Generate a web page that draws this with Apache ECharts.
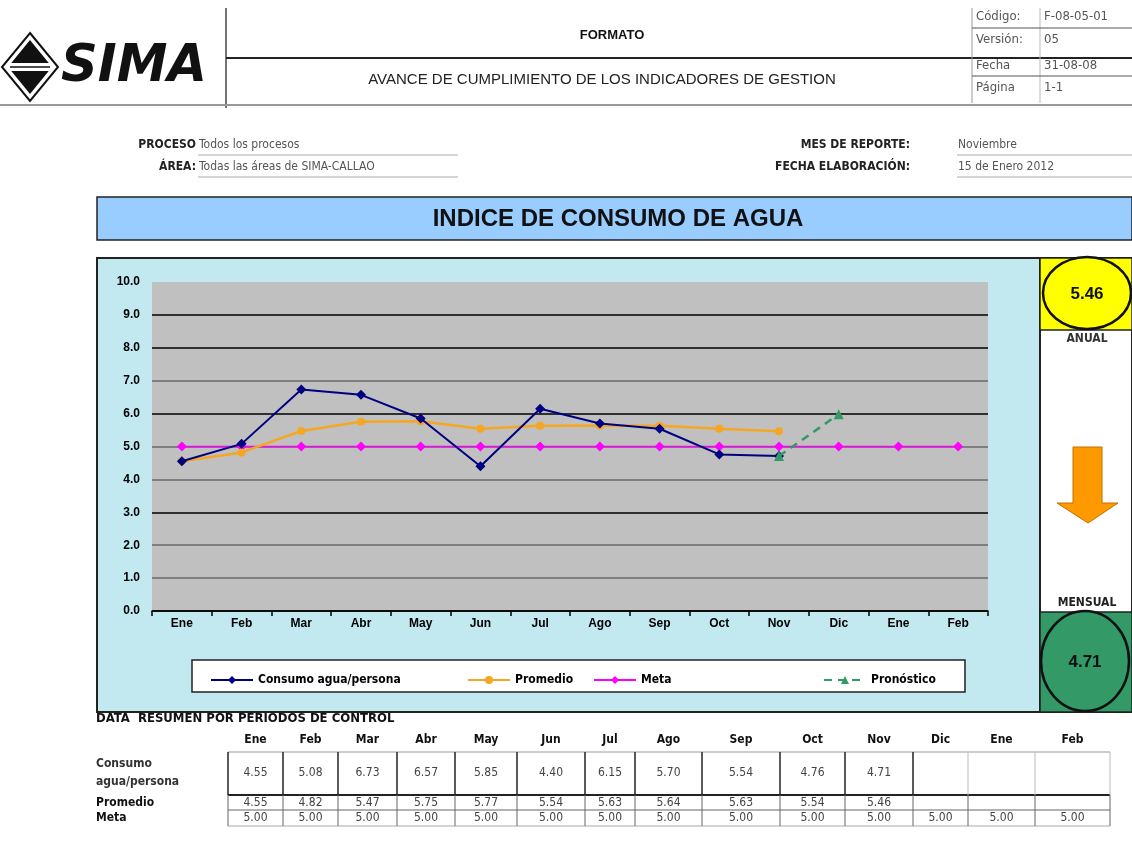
<!DOCTYPE html>
<html>
<head>
<meta charset="utf-8">
<title>Indice de consumo de agua</title>
<script src="https://cdn.jsdelivr.net/npm/echarts@6/dist/echarts.min.js"></script>
<style>
  html, body { margin: 0; padding: 0; background: #fff; }
  #chart { width: 1132px; height: 843px; }
</style>
</head>
<body>
<div id="chart"></div>
<script>
// datos del indicador
const meses = ['Ene', 'Feb', 'Mar', 'Abr', 'May', 'Jun', 'Jul', 'Ago', 'Sep', 'Oct', 'Nov', 'Dic', 'Ene', 'Feb'];
const consumo = [4.55, 5.08, 6.73, 6.57, 5.85, 4.40, 6.15, 5.70, 5.54, 4.76, 4.71, null, null, null];
const promedio = [4.55, 4.82, 5.47, 5.75, 5.77, 5.54, 5.63, 5.64, 5.63, 5.54, 5.46, null, null, null];
const meta = [5.00, 5.00, 5.00, 5.00, 5.00, 5.00, 5.00, 5.00, 5.00, 5.00, 5.00, 5.00, 5.00, 5.00];
const pronostico = [null, null, null, null, null, null, null, null, null, null, 4.71, 5.98, null, null];
const ejeY = { min: 0, max: 10, interval: 1 };
const anual = 5.46;
const mensual = 4.71;

const NARROW = '"Liberation Sans Narrow", "DejaVu Sans Condensed", "Liberation Sans", sans-serif';
const SANS = '"Liberation Sans", Arial, sans-serif';

// bordes de columnas de la tabla resumen
const colEdges = [228, 283, 338, 397, 455, 517, 585, 635, 702, 780, 845, 913, 968, 1035, 1110];

const g = [];
function txt(text, x, y, font, fill, align) {
	g.push({
		type: 'text', z: 10, silent: true,
		style: { text, x, y, font, fill: fill || '#000', textAlign: align || 'left', textVerticalAlign: 'middle', align: align || 'left', verticalAlign: 'middle' }
	});
}
function ln(x1, y1, x2, y2, color, w) {
	g.push({ type: 'line', z: 9, silent: true, shape: { x1, y1, x2, y2 }, style: { stroke: color, lineWidth: w } });
}
function box(x, y, w, h, fill, stroke, lw, z) {
	g.push({ type: 'rect', z: z == null ? 1 : z, silent: true, shape: { x, y, width: w, height: h }, style: { fill, stroke, lineWidth: lw || 0 } });
}

// ---- cabecera ----
g.push({ type: 'polygon', z: 5, silent: true, shape: { points: [[30, 33], [58, 67], [30, 101], [2, 67]] }, style: { fill: '#fff', stroke: '#111', lineWidth: 2 } });
g.push({ type: 'polygon', z: 6, silent: true, shape: { points: [[30, 40], [52, 67], [30, 94], [8, 67]] }, style: { fill: '#111' } });
box(8, 63, 44, 8, '#fff', null, 0, 7);
ln(10, 67, 50, 67, '#111', 1.5);
txt('SIMA', 61, 68, 'italic bold 51px "DejaVu Sans", sans-serif', '#111');

ln(226, 8, 226, 108, '#444', 1.5);
ln(226, 58, 1132, 58, '#222', 2);
ln(0, 105, 1132, 105, '#999', 2);
txt('FORMATO', 612, 35, 'bold 13px ' + SANS, '#111', 'center');
txt('AVANCE DE CUMPLIMIENTO DE LOS INDICADORES DE GESTION', 602, 80, '15px ' + SANS, '#222', 'center');

ln(972, 8, 972, 103, '#999', 1);
ln(1040, 8, 1040, 103, '#bbb', 1);
ln(972, 28, 1132, 28, '#555', 1.2);
ln(972, 76, 1132, 76, '#555', 1.2);
const infoRows = [['Código:', 'F-08-05-01', 17], ['Versión:', '05', 40], ['Fecha', '31-08-08', 66], ['Página', '1-1', 88]];
infoRows.forEach(r => {
	txt(r[0], 976, r[2], '13px ' + NARROW, '#555');
	txt(r[1], 1044, r[2], '13px ' + NARROW, '#555');
});

// ---- datos de proceso ----
txt('PROCESO', 196, 145, 'bold 12px ' + NARROW, '#222', 'right');
txt('Todos los procesos', 199, 145, '12px ' + NARROW, '#555');
ln(198, 155, 458, 155, '#aaa', 1);
txt('ÁREA:', 196, 167, 'bold 12px ' + NARROW, '#222', 'right');
txt('Todas las áreas de SIMA-CALLAO', 199, 167, '12px ' + NARROW, '#555');
ln(198, 177, 458, 177, '#aaa', 1);
txt('MES DE REPORTE:', 910, 145, 'bold 12px ' + NARROW, '#222', 'right');
txt('Noviembre', 958, 145, '12px ' + NARROW, '#555');
ln(957, 155, 1132, 155, '#aaa', 1);
txt('FECHA ELABORACIÓN:', 910, 167, 'bold 12px ' + NARROW, '#222', 'right');
txt('15 de Enero 2012', 958, 167, '12px ' + NARROW, '#555');
ln(957, 177, 1132, 177, '#aaa', 1);

// ---- barra de titulo ----
box(97, 197, 1035, 43, '#99CCFF', '#222', 1.5, 1);
txt('INDICE DE CONSUMO DE AGUA', 618, 219, 'bold 24px ' + SANS, '#111', 'center');

// ---- marco del grafico ----
box(97, 258, 943, 454, '#C2E8F0', '#222', 2, -10);
box(1040, 258, 92, 454, '#fff', '#222', 2, -10);
box(1040, 258, 92, 72, '#FFFF00', '#222', 1.5, 2);
g.push({ type: 'ellipse', z: 3, silent: true, shape: { cx: 1087, cy: 293, rx: 44, ry: 36 }, style: { fill: '#FFFF00', stroke: '#111', lineWidth: 2.5 } });
txt(anual.toFixed(2), 1087, 294, 'bold 17px ' + SANS, '#111', 'center');
txt('ANUAL', 1087, 339, 'bold 12px ' + NARROW, '#333', 'center');
g.push({
	type: 'polygon', z: 3, silent: true,
	shape: { points: [[1073, 447], [1102, 447], [1102, 503], [1118, 503], [1088, 523], [1057, 503], [1073, 503]] },
	style: { fill: '#FF9900', stroke: '#C07000', lineWidth: 1 }
});
txt('MENSUAL', 1087, 603, 'bold 12px ' + NARROW, '#222', 'center');
box(1040, 612, 92, 100, '#339966', '#222', 1.5, 2);
g.push({ type: 'ellipse', z: 3, silent: true, shape: { cx: 1085, cy: 661, rx: 44, ry: 50 }, style: { fill: '#339966', stroke: '#111', lineWidth: 2.5 } });
txt(mensual.toFixed(2), 1085, 662, 'bold 17px ' + SANS, '#111', 'center');

// caja de la leyenda
box(192, 660, 773, 32, '#fff', '#222', 1.5, 1);

// ---- tabla resumen ----
txt('DATA  RESUMEN POR PERIODOS DE CONTROL', 96, 719, 'bold 13px ' + NARROW, '#111');
const rowY = { head: 740, consumo: 773, promedio: 802.5, meta: 818 };
txt('Consumo', 96, 764, 'bold 12px ' + NARROW, '#333');
txt('agua/persona', 96, 782, 'bold 12px ' + NARROW, '#333');
txt('Promedio', 96, rowY.promedio, 'bold 12px ' + NARROW, '#111');
txt('Meta', 96, rowY.meta, 'bold 12px ' + NARROW, '#111');
const fmt = v => v == null ? '' : v.toFixed(2);
meses.forEach((m, i) => {
	const cx = (colEdges[i] + colEdges[i + 1]) / 2;
	txt(m, cx, rowY.head, 'bold 12px ' + NARROW, '#111', 'center');
	txt(fmt(consumo[i]), cx, rowY.consumo, '12px ' + NARROW, '#444', 'center');
	txt(fmt(promedio[i]), cx, rowY.promedio, '12px ' + NARROW, '#444', 'center');
	txt(fmt(meta[i]), cx, rowY.meta, '12px ' + NARROW, '#444', 'center');
});
const tl = colEdges[0], tr = colEdges[colEdges.length - 1];
ln(tl, 752, tr, 752, '#999', 1);
ln(tl, 795, tr, 795, '#222', 2);
ln(tl, 810, tr, 810, '#999', 1.5);
ln(tl, 826, tr, 826, '#aaa', 1);
colEdges.forEach((x, i) => {
	ln(x, 752, x, 795, i <= 11 ? '#222' : '#bbb', i <= 11 ? 1.5 : 1);
	ln(x, 795, x, 826, '#666', 1);
});

// ---- grafico ----
const myChart = echarts.init(document.getElementById('chart'));
const nombres = ['Consumo agua/persona', 'Promedio', 'Meta', 'Pronóstico'];
const legendFont = { fontFamily: NARROW, fontWeight: 'bold', fontSize: 12, color: '#000' };
const legendLeft = [205, 462, 588, 818];

const option = {
	animation: false,
	backgroundColor: '#fff',
	grid: {
		left: 152, right: 144, top: 282, bottom: 232,
		show: true, backgroundColor: '#C0C0C0', borderWidth: 0
	},
	legend: nombres.map((n, i) => ({
		data: [n], left: legendLeft[i], top: 669,
		itemWidth: 42, itemHeight: 10, itemGap: 4,
		textStyle: legendFont
	})),
	xAxis: {
		type: 'category',
		data: meses,
		boundaryGap: true,
		axisLine: { lineStyle: { color: '#000', width: 1.5 } },
		axisTick: { show: true, length: 5, lineStyle: { color: '#000', width: 1.5 } },
		axisLabel: { color: '#000', fontFamily: SANS, fontWeight: 'bold', fontSize: 12, margin: 7 }
	},
	yAxis: {
		type: 'value',
		min: ejeY.min, max: ejeY.max, interval: ejeY.interval,
		axisLine: { show: false },
		axisTick: { show: false },
		axisLabel: { color: '#000', fontFamily: SANS, fontWeight: 'bold', fontSize: 12, margin: 12, formatter: v => v.toFixed(1) },
		splitLine: {
			show: true,
			lineStyle: {
				width: 1.6,
				color: ['#000', '#6a6a6a', '#6a6a6a', '#000', '#6a6a6a', '#6a6a6a', '#000', '#6a6a6a', '#000', '#000', 'rgba(0,0,0,0)']
			}
		}
	},
	series: [
		{
			name: nombres[0], type: 'line', data: consumo, z: 5,
			symbol: 'diamond', symbolSize: 10,
			lineStyle: { color: '#000080', width: 2 },
			itemStyle: { color: '#000080' }
		},
		{
			name: nombres[1], type: 'line', data: promedio, z: 4,
			symbol: 'circle', symbolSize: 8,
			lineStyle: { color: '#F5A623', width: 2.5 },
			itemStyle: { color: '#F5A623' }
		},
		{
			name: nombres[2], type: 'line', data: meta, z: 3,
			symbol: 'diamond', symbolSize: 10,
			lineStyle: { color: '#FF00FF', width: 1.5 },
			itemStyle: { color: '#FF00FF' }
		},
		{
			name: nombres[3], type: 'line', data: pronostico, z: 6,
			symbol: 'triangle', symbolSize: 10,
			lineStyle: { color: '#339966', width: 2.5, type: [8, 6] },
			itemStyle: { color: '#339966' }
		}
	],
	graphic: { elements: g }
};
myChart.setOption(option);
</script>
</body>
</html>
